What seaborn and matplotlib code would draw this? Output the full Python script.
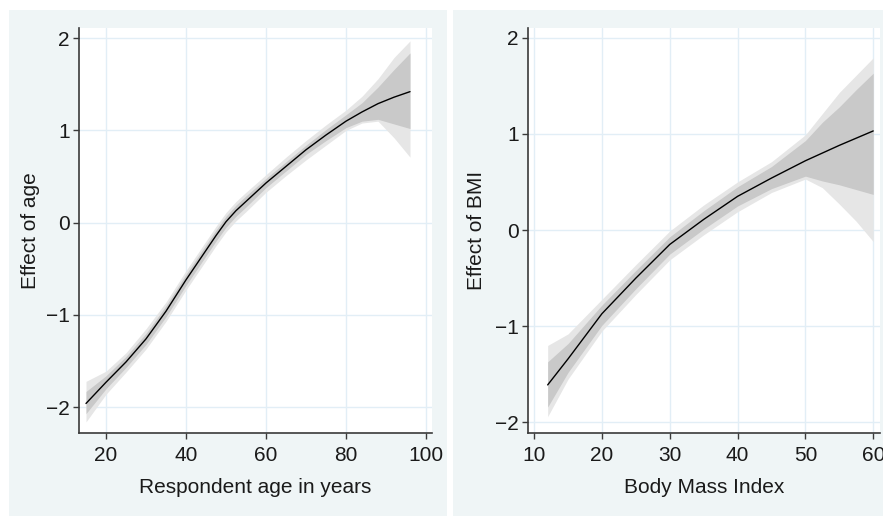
import matplotlib
matplotlib.use("Agg")
import matplotlib.pyplot as plt
import seaborn as sns
import pandas as pd
from matplotlib.patches import Rectangle

# ---------------- data ----------------
age = [15, 20, 25, 30, 35, 40, 45, 47.5, 50, 52.5, 55, 60, 65, 70, 75, 80, 84, 88, 92, 96]
age_effect = [-1.96, -1.73, -1.51, -1.26, -0.96, -0.62, -0.30, -0.14, 0.01, 0.13, 0.23,
              0.43, 0.61, 0.79, 0.95, 1.10, 1.20, 1.29, 1.36, 1.42]
age_inner_hi = [-1.83, -1.66, -1.45, -1.20, -0.90, -0.56, -0.24, -0.08, 0.07, 0.19, 0.29,
                0.48, 0.66, 0.84, 1.01, 1.17, 1.30, 1.47, 1.66, 1.84]
age_inner_lo = [-2.07, -1.80, -1.57, -1.32, -1.02, -0.68, -0.36, -0.20, -0.05, 0.07, 0.17,
                0.38, 0.56, 0.74, 0.89, 1.03, 1.10, 1.12, 1.07, 1.02]
age_outer_hi = [-1.72, -1.61, -1.41, -1.15, -0.86, -0.52, -0.20, -0.04, 0.11, 0.23, 0.33,
                0.52, 0.71, 0.89, 1.06, 1.22, 1.37, 1.56, 1.79, 1.97]
age_outer_lo = [-2.16, -1.86, -1.62, -1.37, -1.07, -0.73, -0.41, -0.25, -0.10, 0.02, 0.12,
                0.33, 0.51, 0.68, 0.84, 1.00, 1.08, 1.10, 0.92, 0.71]

bmi = [12, 15, 20, 25, 30, 35, 40, 45, 50, 52.5, 55, 57.5, 60]
bmi_effect = [-1.61, -1.34, -0.87, -0.50, -0.15, 0.11, 0.35, 0.54, 0.72, 0.80, 0.88, 0.955, 1.03]
bmi_inner_hi = [-1.37, -1.18, -0.78, -0.42, -0.07, 0.20, 0.45, 0.66, 0.93, 1.12, 1.28, 1.46, 1.63]
bmi_inner_lo = [-1.84, -1.48, -0.99, -0.61, -0.25, 0.01, 0.25, 0.43, 0.56, 0.51, 0.47, 0.42, 0.37]
bmi_outer_hi = [-1.20, -1.08, -0.72, -0.36, -0.01, 0.26, 0.50, 0.71, 0.99, 1.21, 1.43, 1.61, 1.79]
bmi_outer_lo = [-1.94, -1.55, -1.05, -0.67, -0.31, -0.05, 0.19, 0.39, 0.53, 0.44, 0.27, 0.09, -0.12]

age_xticks = [20, 40, 60, 80, 100]
bmi_xticks = [10, 20, 30, 40, 50, 60]
yticks = [-2, -1, 0, 1, 2]

# ---------------- style ----------------
sns.set_style("white")
plt.rcParams["font.family"] = ["Liberation Sans", "DejaVu Sans"]
plt.rcParams["font.size"] = 15

W, H = 883, 516
fig = plt.figure(figsize=(W / 100, H / 100), dpi=100)
fig.patch.set_facecolor("white")

panel_bg = "#eff5f6"
for (x0, y0, x1, y1) in [(9, 10, 447, 517), (453, 10, 884, 517)]:
    fig.patches.append(Rectangle((x0 / W, 1 - y1 / H), (x1 - x0) / W, (y1 - y0) / H,
                                 transform=fig.transFigure, facecolor=panel_bg,
                                 edgecolor="none", zorder=-5))

def make_axes(px_left, px_right, px_top, px_bottom):
    return fig.add_axes([px_left / W, 1 - px_bottom / H,
                         (px_right - px_left) / W, (px_bottom - px_top) / H])

axL = make_axes(79, 432, 28, 433)
axR = make_axes(528, 880, 28, 433)

inner_c = "#c9c9c9"
outer_c = "#e6e6e6"
grid_c = "#e2eef6"
txt_c = "#1a1a1a"

def draw(ax, x, y, ihi, ilo, ohi, olo, xlim, ylim, xticks, xlabel, ylabel, ylab_x):
    ax.set_facecolor("white")
    ax.fill_between(x, olo, ohi, color=outer_c, linewidth=0, zorder=2)
    ax.fill_between(x, ilo, ihi, color=inner_c, linewidth=0, zorder=3)
    df = pd.DataFrame({"x": x, "y": y})
    sns.lineplot(data=df, x="x", y="y", ax=ax, color="black", linewidth=1.0, zorder=4)
    ax.set_xlim(*xlim)
    ax.set_ylim(*ylim)
    ax.set_xticks(xticks)
    ax.set_yticks(yticks)
    ax.grid(True, color=grid_c, linewidth=1.0)
    ax.set_axisbelow(True)
    for s in ["top", "right"]:
        ax.spines[s].set_visible(False)
    for s in ["left", "bottom"]:
        ax.spines[s].set_color("#3a3a3a")
        ax.spines[s].set_linewidth(1.2)
    ax.tick_params(axis="both", direction="out", length=4.5, width=1.0, color="#3a3a3a",
                   labelsize=15, labelcolor=txt_c, left=True, bottom=True)
    ax.tick_params(axis="x", pad=5)
    ax.tick_params(axis="y", pad=2)
    ax.set_xlabel(xlabel, fontsize=15, color=txt_c)
    ax.set_ylabel(ylabel, fontsize=15, color=txt_c)
    ax.xaxis.set_label_coords(0.5, -0.135)
    ax.xaxis.label.set_va("center")
    ax.yaxis.set_label_coords(ylab_x, 0.5)
    ax.yaxis.label.set_va("center")

draw(axL, age, age_effect, age_inner_hi, age_inner_lo, age_outer_hi, age_outer_lo,
     (13.25, 101.5), (-2.28, 2.11), age_xticks,
     "Respondent age in years", "Effect of age", (30 - 79) / 353)
draw(axR, bmi, bmi_effect, bmi_inner_hi, bmi_inner_lo, bmi_outer_hi, bmi_outer_lo,
     (9.1, 61.0), (-2.11, 2.10), bmi_xticks,
     "Body Mass Index", "Effect of BMI", (477 - 528) / 352)

fig.savefig("out.png", dpi=100, facecolor=fig.get_facecolor())
